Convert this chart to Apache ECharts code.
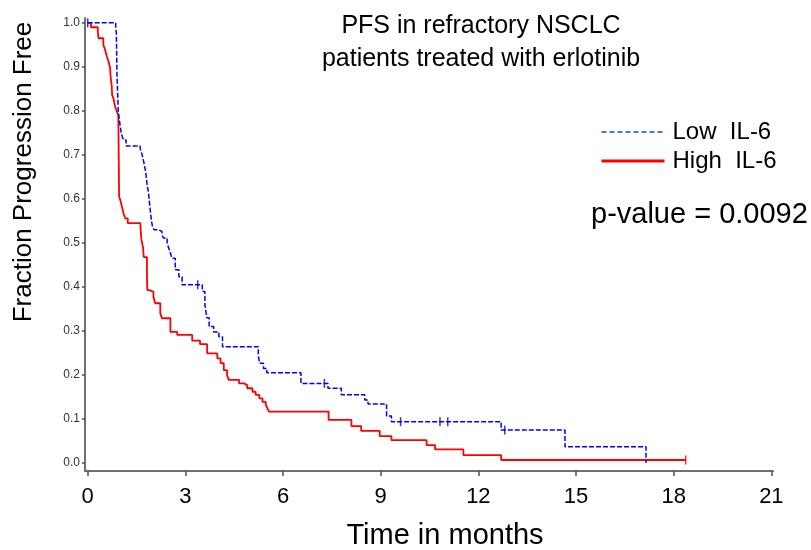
<!DOCTYPE html>
<html>
<head>
<meta charset="utf-8">
<script src="https://cdn.jsdelivr.net/npm/echarts@6/dist/echarts.min.js"></script>
<style>
html,body{margin:0;padding:0;background:#fff;}
#chart{width:811px;height:550px;}
</style>
</head>
<body>
<div id="chart"></div>
<script>
// ---- data (months, fraction progression free) ----
const lowT = [0, 0.86, 0.88, 0.89, 0.90, 0.92, 0.94, 0.97, 1.00, 1.03, 1.06, 1.10, 1.18, 1.61, 1.66, 1.71, 1.76, 1.80, 1.82, 1.87, 1.90, 1.93, 1.96, 1.99, 2.04, 2.18, 2.28, 2.33, 2.44, 2.49, 2.54, 2.59, 2.69, 2.80, 2.90, 3.52, 3.60, 3.66, 3.73, 3.87, 4.03, 4.14, 5.24, 5.28, 5.40, 5.50, 6.55, 7.38, 7.79, 8.51, 8.61, 9.18, 9.33, 12.70, 14.66, 17.15];
const lowS = [1.0, 0.988, 0.977, 0.93, 0.88, 0.84, 0.80, 0.78, 0.765, 0.75, 0.742, 0.734, 0.72, 0.715, 0.704, 0.688, 0.67, 0.65, 0.635, 0.613, 0.59, 0.568, 0.55, 0.537, 0.53, 0.526, 0.518, 0.511, 0.499, 0.488, 0.477, 0.465, 0.439, 0.423, 0.405, 0.39, 0.36, 0.33, 0.31, 0.298, 0.287, 0.264, 0.245, 0.227, 0.215, 0.205, 0.181, 0.17, 0.155, 0.143, 0.134, 0.107, 0.094, 0.075, 0.037, 0.0];
const highT = [0, 0.10, 0.31, 0.33, 0.48, 0.53, 0.59, 0.64, 0.69, 0.70, 0.72, 0.74, 0.75, 0.79, 0.84, 0.89, 0.94, 0.945, 0.95, 0.955, 0.96, 0.965, 1.00, 1.05, 1.10, 1.15, 1.23, 1.62, 1.65, 1.70, 1.72, 1.82, 1.83, 1.90, 2.02, 2.07, 2.23, 2.28, 2.54, 2.75, 3.21, 3.45, 3.67, 3.98, 4.08, 4.18, 4.28, 4.33, 4.65, 4.80, 4.90, 5.06, 5.16, 5.27, 5.37, 5.47, 5.52, 5.57, 7.40, 8.10, 8.40, 8.97, 9.33, 10.41, 10.67, 11.54, 12.70, 18.37];
const highS = [1.0, 0.99, 0.982, 0.965, 0.95, 0.94, 0.923, 0.912, 0.897, 0.88, 0.867, 0.855, 0.836, 0.829, 0.81, 0.80, 0.79, 0.76, 0.72, 0.68, 0.64, 0.605, 0.598, 0.583, 0.567, 0.556, 0.545, 0.537, 0.507, 0.49, 0.468, 0.43, 0.393, 0.389, 0.378, 0.363, 0.34, 0.329, 0.298, 0.291, 0.278, 0.27, 0.249, 0.238, 0.227, 0.211, 0.2, 0.189, 0.181, 0.177, 0.17, 0.162, 0.155, 0.147, 0.139, 0.132, 0.124, 0.117, 0.098, 0.084, 0.073, 0.061, 0.052, 0.041, 0.031, 0.018, 0.007, 0.007];
const lowCensorT = [0, 3.38, 7.27, 9.61, 10.82, 11.06, 12.81];
const lowCensorS = [1.0, 0.405, 0.181, 0.094, 0.094, 0.094, 0.075];
const highCensorT = [18.37];
const highCensorS = [0.007];
const xTicks = [0, 3, 6, 9, 12, 15, 18, 21];
const yTicks = [0, 0.1, 0.2, 0.3, 0.4, 0.5, 0.6, 0.7, 0.8, 0.9, 1.0];
const seriesNames = ['Low  IL-6', 'High  IL-6'];
const titleText = 'PFS in refractory NSCLC\npatients treated with erlotinib';
const pValueText = 'p-value = 0.0092';
const xName = 'Time in months';
const yName = 'Fraction Progression Free';

const zip = (a, b) => a.map((v, i) => [v, b[i]]);
const FONT = '"Liberation Sans", Arial, sans-serif';

const chart = echarts.init(document.getElementById('chart'), null, {renderer: 'canvas'});
chart.setOption({
  animation: false,
  backgroundColor: '#fff',
  textStyle: {fontFamily: FONT},
  title: [
    {text: titleText, left: 476, top: 5, textAlign: 'center',
     textStyle: {fontFamily: FONT, fontSize: 25, fontWeight: 'normal', color: '#000', lineHeight: 33}},
    {text: pValueText, left: 586, top: 195,
     textStyle: {fontFamily: FONT, fontSize: 29, fontWeight: 'normal', color: '#000'}}
  ],
  legend: {
    orient: 'vertical', left: 595, top: 115,
    itemWidth: 63, itemHeight: 14, itemGap: 5,
    textStyle: {fontFamily: FONT, fontSize: 24, color: '#000', padding: [0, 0, 0, 3]},
    data: [
      {name: seriesNames[0], itemStyle: {opacity: 0, borderWidth: 0}, lineStyle: {color: '#4a7ebb', type: [5, 3], width: 2, opacity: 1}},
      {name: seriesNames[1], itemStyle: {opacity: 0, borderWidth: 0}, lineStyle: {color: '#ff0000', width: 3, opacity: 1}}
    ]
  },
  grid: {left: 85, right: 38, top: 18, bottom: 79, containLabel: false},
  xAxis: {
    type: 'value', min: -0.083, max: 21.05,
    axisLine: {show: true, onZero: false, lineStyle: {color: '#707070', width: 2}},
    axisTick: {show: true, length: 5, customValues: xTicks, lineStyle: {color: '#505050', width: 1.5}},
    axisLabel: {customValues: xTicks, margin: 15, fontFamily: FONT, fontSize: 22, color: '#000'},
    splitLine: {show: false}
  },
  yAxis: {
    type: 'value', min: -0.018, max: 1.011,
    axisLine: {show: true, onZero: false, lineStyle: {color: '#707070', width: 2}},
    axisTick: {show: true, length: 3, customValues: yTicks, lineStyle: {color: '#505050', width: 1.5}},
    axisLabel: {customValues: yTicks, margin: 5, fontFamily: FONT, fontSize: 12, color: '#333',
      formatter: v => v.toFixed(1)},
    splitLine: {show: false}
  },
  graphic: [
    {type: 'text', x: 24, y: 172, rotation: Math.PI / 2,
     style: {text: yName, font: '26px ' + FONT, fill: '#000', textAlign: 'center', textVerticalAlign: 'middle'}},
    {type: 'text', x: 445, y: 536,
     style: {text: xName, font: '29px ' + FONT, fill: '#000', textAlign: 'center', textVerticalAlign: 'middle'}}
  ],
  series: [
    {name: seriesNames[0], type: 'line', step: 'end', symbol: 'none', data: zip(lowT, lowS),
     lineStyle: {color: '#0000ff', width: 1.5, type: [5, 2]}, itemStyle: {color: '#0000ff'}, z: 3},
    {name: seriesNames[1], type: 'line', step: 'end', symbol: 'none', data: zip(highT, highS),
     lineStyle: {color: '#ff0000', width: 1.8}, itemStyle: {color: '#ff0000'}, z: 2},
    {name: 'lowCensor', type: 'scatter', symbol: 'rect', symbolSize: [1.5, 9], data: zip(lowCensorT, lowCensorS),
     itemStyle: {color: '#0000ff'}, z: 4},
    {name: 'highCensor', type: 'scatter', symbol: 'rect', symbolSize: [1.5, 9], data: zip(highCensorT, highCensorS),
     itemStyle: {color: '#ff0000'}, z: 4}
  ]
});
</script>
</body>
</html>
